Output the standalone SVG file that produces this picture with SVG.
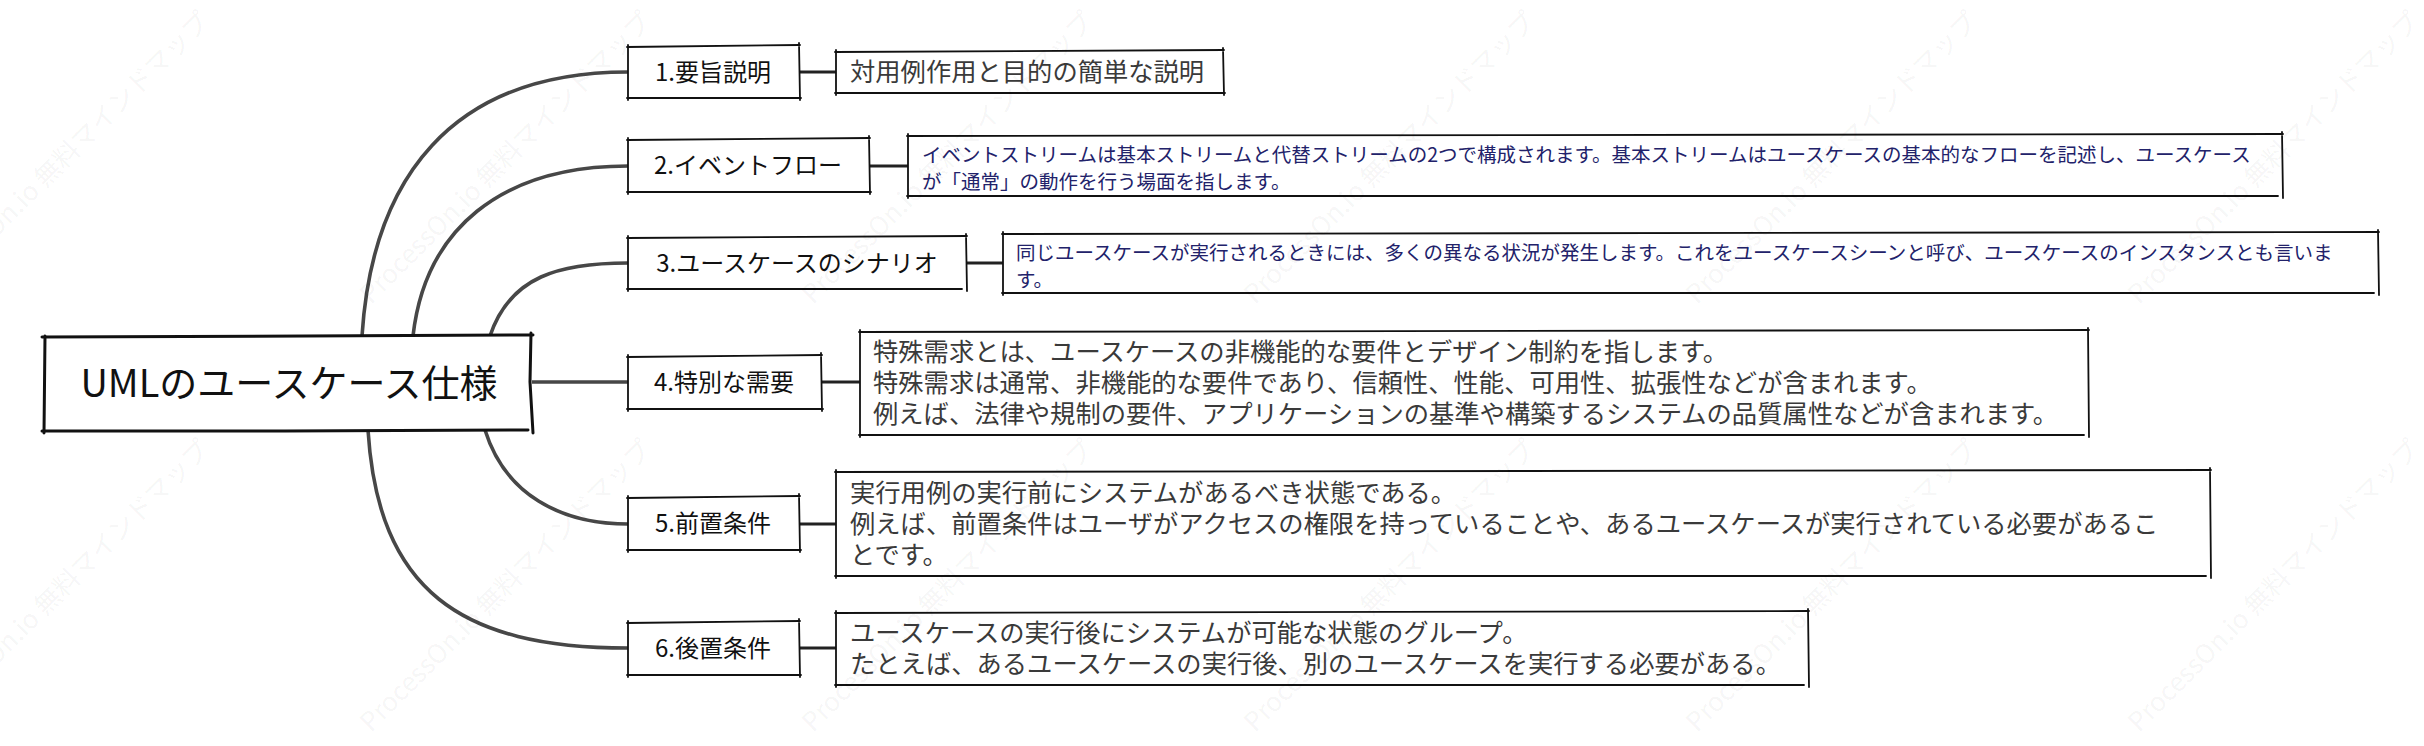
<svg xmlns="http://www.w3.org/2000/svg" width="2424" height="746" viewBox="0 0 2424 746">
<style>
  text { font-family: "Noto Sans CJK JP", "Noto Sans", sans-serif; }
  .bg { fill: #ffffff; stroke: none; }
  .sk { fill: none; stroke: #111111; stroke-width: 1.8; stroke-linecap: round; }
  .skr { fill: none; stroke: #111111; stroke-width: 3; stroke-linecap: round; }
  .lbl { font-size: 24px; fill: #111111; text-anchor: middle; }
  .det { font-size: 25.3px; fill: #3a3a3a; }
  .detb { font-size: 19.5px; fill: #22226a; }
  .curve { fill: none; stroke: #474747; stroke-width: 3.6; stroke-linecap: round; }
  .link { fill: none; stroke: #222222; stroke-width: 3; }
  .wm { font-size: 26px; fill: #000000; fill-opacity: 0.05; }
</style>

<g id="connectors">
  <path class="curve" d="M362,336 C372,180 450,72 628,72"/>
  <path class="curve" d="M413,336 C425,230 500,166 628,166"/>
  <path class="curve" d="M490,336 C510,276 560,263 628,263"/>
  <path class="curve" d="M532,382 L628,382"/>
  <path class="curve" d="M485,430 C505,494 560,524 628,524"/>
  <path class="curve" d="M368,430 C378,590 460,648 628,648"/>
  <path class="link" d="M799,72 L836,72"/>
  <path class="link" d="M869,166 L908,166"/>
  <path class="link" d="M966,263 L1003,263"/>
  <path class="link" d="M821,382 L860,382"/>
  <path class="link" d="M799,524 L836,524"/>
  <path class="link" d="M799,648 L836,648"/>
</g>

<g id="root">
  <rect class="bg" x="44" y="336" width="488" height="94"/>
  <path class="skr" d="M42,337 L533,335 M531,333 L530,382 L533,433 M528,430 L285,431 L42,431 M44,433 L45,336"/>
  <text x="289" y="397" font-size="38" fill="#111111" text-anchor="middle">UMLのユースケース仕様</text>
</g>

<g id="n1">
  <rect class="bg" x="628" y="46" width="171" height="52"/>
  <path class="sk" d="M627,47 L800,45 M799,43 L800,100 M801,98 L627,98 M628,100 L628,45"/>
  <text class="lbl" x="713" y="81">1.要旨説明</text>
</g>
<g id="n2">
  <rect class="bg" x="628" y="139" width="241" height="53"/>
  <path class="sk" d="M627,140 L870,138 M869,136 L870,194 M871,192 L627,192 M628,194 L628,138"/>
  <text class="lbl" x="748" y="174">2.イベントフロー</text>
</g>
<g id="n3">
  <rect class="bg" x="628" y="237" width="338" height="52"/>
  <path class="sk" d="M627,238 L967,236 M966,234 L967,291 M962,289 L627,289 M628,291 L628,236"/>
  <text class="lbl" x="797" y="272">3.ユースケースのシナリオ</text>
</g>
<g id="n4">
  <rect class="bg" x="628" y="356" width="193" height="53"/>
  <path class="sk" d="M627,357 L822,355 M821,353 L822,411 M823,409 L627,409 M628,411 L628,355"/>
  <text class="lbl" x="724" y="391">4.特別な需要</text>
</g>
<g id="n5">
  <rect class="bg" x="628" y="497" width="171" height="53"/>
  <path class="sk" d="M627,498 L800,496 M799,494 L800,552 M801,550 L627,550 M628,552 L628,496"/>
  <text class="lbl" x="713" y="532">5.前置条件</text>
</g>
<g id="n6">
  <rect class="bg" x="628" y="622" width="171" height="53"/>
  <path class="sk" d="M627,623 L800,621 M799,619 L800,677 M801,675 L627,675 M628,677 L628,621"/>
  <text class="lbl" x="713" y="657">6.後置条件</text>
</g>

<g id="d1">
  <rect class="bg" x="836" y="51" width="387" height="42"/>
  <path class="sk" d="M835,52 L1224,50 M1223,48 L1224,95 M1225,93 L835,93 M836,95 L836,50"/>
  <text class="det" x="850" y="81">対用例作用と目的の簡単な説明</text>
</g>
<g id="d2">
  <rect class="bg" x="908" y="135" width="1374" height="61"/>
  <path class="sk" d="M907,136 L2283,134 M2282,132 L2283,198 M2278,196 L907,196 M908,198 L908,134"/>
  <text class="detb" x="922" y="161.5">イベントストリームは基本ストリームと代替ストリームの2つで構成されます。基本ストリームはユースケースの基本的なフローを記述し、ユースケース</text>
  <text class="detb" x="922" y="188.5">が「通常」の動作を行う場面を指します。</text>
</g>
<g id="d3">
  <rect class="bg" x="1003" y="233" width="1375" height="60"/>
  <path class="sk" d="M1002,234 L2379,232 M2378,230 L2379,295 M2374,293 L1002,293 M1003,295 L1003,232"/>
  <text class="detb" x="1016" y="259.5">同じユースケースが実行されるときには、多くの異なる状況が発生します。これをユースケースシーンと呼び、ユースケースのインスタンスとも言いま</text>
  <text class="detb" x="1016" y="286.5">す。</text>
</g>
<g id="d4">
  <rect class="bg" x="860" y="331" width="1228" height="104"/>
  <path class="sk" d="M859,332 L2089,330 M2088,328 L2089,437 M2084,435 L859,435 M860,437 L860,330"/>
  <text class="det" x="873" y="361">特殊需求とは、ユースケースの非機能的な要件とデザイン制約を指します。</text>
  <text class="det" x="873" y="392">特殊需求は通常、非機能的な要件であり、信頼性、性能、可用性、拡張性などが含まれます。</text>
  <text class="det" x="873" y="423">例えば、法律や規制の要件、アプリケーションの基準や構築するシステムの品質属性などが含まれます。</text>
</g>
<g id="d5">
  <rect class="bg" x="836" y="471" width="1374" height="105"/>
  <path class="sk" d="M835,472 L2211,470 M2210,468 L2211,578 M2206,576 L835,576 M836,578 L836,470"/>
  <text class="det" x="850" y="502">実行用例の実行前にシステムがあるべき状態である。</text>
  <text class="det" x="850" y="533">例えば、前置条件はユーザがアクセスの権限を持っていることや、あるユースケースが実行されている必要があるこ</text>
  <text class="det" x="850" y="564">とです。</text>
</g>
<g id="d6">
  <rect class="bg" x="836" y="612" width="972" height="73"/>
  <path class="sk" d="M835,613 L1809,611 M1808,609 L1809,687 M1804,685 L835,685 M836,687 L836,611"/>
  <text class="det" x="850" y="642">ユースケースの実行後にシステムが可能な状態のグループ。</text>
  <text class="det" x="850" y="673">たとえば、あるユースケースの実行後、別のユースケースを実行する必要がある。</text>
</g>

<g id="watermark">
  <text class="wm" transform="translate(-71,305) rotate(-45)">ProcessOn.io 無料マインドマップ</text>
  <text class="wm" transform="translate(371,305) rotate(-45)">ProcessOn.io 無料マインドマップ</text>
  <text class="wm" transform="translate(813,305) rotate(-45)">ProcessOn.io 無料マインドマップ</text>
  <text class="wm" transform="translate(1255,305) rotate(-45)">ProcessOn.io 無料マインドマップ</text>
  <text class="wm" transform="translate(1697,305) rotate(-45)">ProcessOn.io 無料マインドマップ</text>
  <text class="wm" transform="translate(2139,305) rotate(-45)">ProcessOn.io 無料マインドマップ</text>
  <text class="wm" transform="translate(-71,733) rotate(-45)">ProcessOn.io 無料マインドマップ</text>
  <text class="wm" transform="translate(371,733) rotate(-45)">ProcessOn.io 無料マインドマップ</text>
  <text class="wm" transform="translate(813,733) rotate(-45)">ProcessOn.io 無料マインドマップ</text>
  <text class="wm" transform="translate(1255,733) rotate(-45)">ProcessOn.io 無料マインドマップ</text>
  <text class="wm" transform="translate(1697,733) rotate(-45)">ProcessOn.io 無料マインドマップ</text>
  <text class="wm" transform="translate(2139,733) rotate(-45)">ProcessOn.io 無料マインドマップ</text>
</g>
</svg>
